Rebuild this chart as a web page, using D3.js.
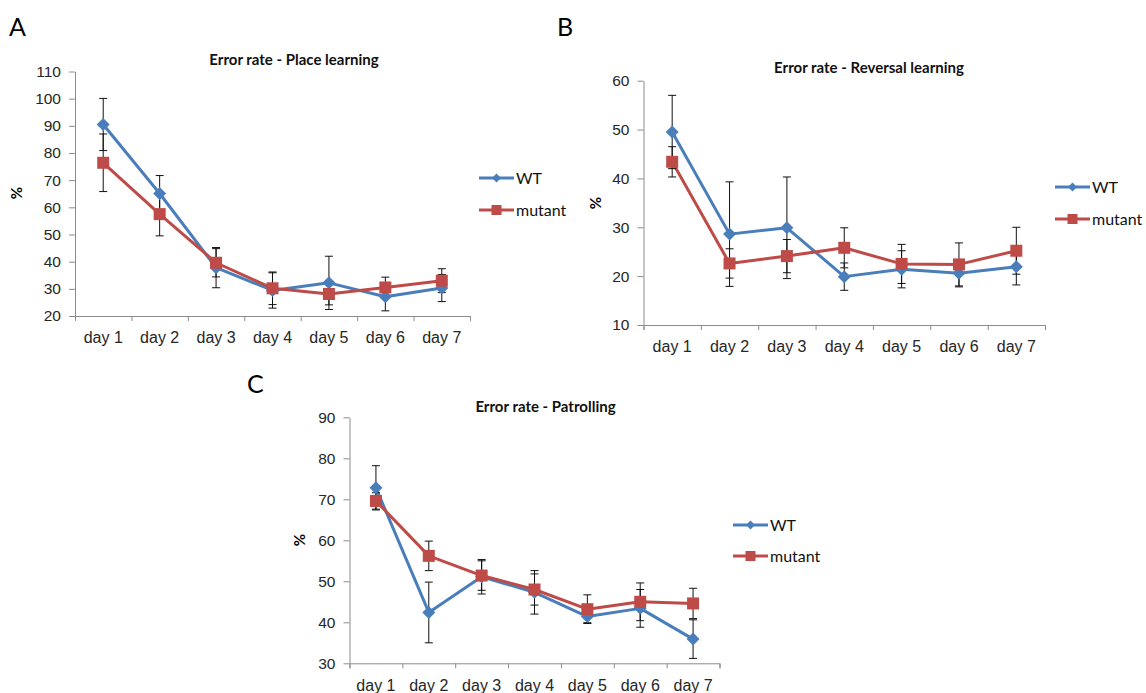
<!DOCTYPE html>
<html>
<head>
<meta charset="utf-8">
<script src="https://cdn.jsdelivr.net/npm/d3@7"></script>
<style>
  body { margin: 0; background: #fff; }
  svg { display: block; font-family: Lato, "Open Sans", sans-serif; }
</style>
</head>
<body>
<svg id="chart" width="1146" height="693"></svg>
<script>
const days = ["day 1", "day 2", "day 3", "day 4", "day 5", "day 6", "day 7"];
const seriesNames = ["WT", "mutant"];

// A - place learning
const placeWT = [90.5, 65.1, 37.8, 29.4, 32.2, 27.1, 30.3];
const placeWTErr = [9.6, 6.6, 7.4, 6.5, 9.8, 5.2, 5.0];
const placeMut = [76.4, 57.5, 39.6, 30.2, 28.1, 30.5, 33.0];
const placeMutErr = [10.6, 8.0, 5.2, 6.0, 4.0, 3.8, 4.4];
const placeTicks = [20, 30, 40, 50, 60, 70, 80, 90, 100, 110];

// B - reversal learning
const revWT = [49.5, 28.6, 29.9, 19.9, 21.4, 20.6, 21.9];
const revWTErr = [7.5, 10.7, 10.4, 2.8, 3.8, 2.8, 3.7];
const revMut = [43.4, 22.6, 24.1, 25.8, 22.5, 22.4, 25.2];
const revMutErr = [3.1, 3.0, 3.4, 4.1, 4.0, 4.4, 4.8];
const revTicks = [10, 20, 30, 40, 50, 60];

// C - patrolling
const patWT = [72.8, 42.4, 51.1, 47.3, 41.4, 43.4, 35.9];
const patWTErr = [5.4, 7.4, 4.2, 5.3, 1.5, 4.6, 4.7];
const patMut = [69.6, 56.2, 51.4, 48.0, 43.2, 45.0, 44.6];
const patMutErr = [2.0, 3.6, 3.6, 3.8, 3.5, 4.6, 3.7];
const patTicks = [30, 40, 50, 60, 70, 80, 90];

const blue = "#4a7ebb", red = "#be4b48", axisGrey = "#8c8c8c";

const svg = d3.select("#chart");

function drawPanel(p) {
    const g = svg.append("g");

    let x = d3.scaleBand()
        .domain(days)
        .range([p.left, p.right]);

    let xb = d3.scaleLinear()
        .domain([0, days.length])
        .range([p.left, p.right]);

    let y = d3.scaleLinear()
        .domain([p.ticks[0], p.ticks[p.ticks.length - 1]])
        .range([p.bottom, p.top]);

    // y axis
    const yAxis = g.append("g")
        .attr("transform", `translate(${p.left},0)`)
        .call(d3.axisLeft(y).tickValues(p.ticks).tickSize(6).tickPadding(8).tickSizeOuter(0));
    yAxis.select(".domain").attr("stroke", axisGrey);
    yAxis.selectAll(".tick line").attr("stroke", axisGrey);
    yAxis.selectAll("text").attr("font-size", 15.5).attr("fill", "#262626");

    // x axis: boundary ticks + labels
    const xTicks = g.append("g")
        .attr("transform", `translate(0,${p.bottom})`)
        .call(d3.axisBottom(xb).tickValues(d3.range(days.length + 1)).tickSize(5).tickFormat(""));
    xTicks.select(".domain").attr("stroke", axisGrey);
    xTicks.selectAll(".tick line").attr("stroke", axisGrey);

    const xLabels = g.append("g")
        .attr("transform", `translate(0,${p.bottom})`)
        .call(d3.axisBottom(x).tickSize(0).tickPadding(16));
    xLabels.select(".domain").remove();
    xLabels.selectAll("text").attr("font-size", 16).attr("fill", "#262626");

    // title
    g.append("text")
        .attr("x", p.titleX).attr("y", p.titleY)
        .attr("text-anchor", "middle")
        .attr("font-size", 15).attr("font-weight", "bold")
        .attr("fill", "#111")
        .text(p.title);

    // y label
    g.append("text")
        .attr("transform", `translate(${p.pctX},${p.pctY}) rotate(-90)`)
        .attr("text-anchor", "middle")
        .attr("font-size", 15).attr("font-weight", "bold")
        .text("%");

    // panel letter
    g.append("text")
        .attr("x", p.letterX).attr("y", p.letterY)
        .attr("font-size", 25)
        .text(p.letter);

    const series = [
        {name: "WT", vals: p.wt, err: p.wtErr, color: blue},
        {name: "mutant", vals: p.mut, err: p.mutErr, color: red}
    ];
    const cx = d => x(d) + x.bandwidth() / 2;

    const line = d3.line()
        .x((d, i) => cx(days[i]))
        .y(d => y(d));

    // lines
    series.forEach(s => {
        g.append("path")
            .attr("d", line(s.vals))
            .attr("fill", "none")
            .attr("stroke", s.color)
            .attr("stroke-width", 3)
            .attr("stroke-linejoin", "round");
    });

    // error bars
    series.forEach(s => {
        const eb = g.append("g").attr("stroke", "#111").attr("stroke-width", 1);
        s.vals.forEach((v, i) => {
            const xx = cx(days[i]);
            const hi = y(v + s.err[i]), lo = y(v - s.err[i]);
            eb.append("line").attr("x1", xx).attr("x2", xx).attr("y1", hi).attr("y2", lo);
            eb.append("line").attr("x1", xx - 4).attr("x2", xx + 4).attr("y1", hi).attr("y2", hi);
            eb.append("line").attr("x1", xx - 4).attr("x2", xx + 4).attr("y1", lo).attr("y2", lo);
        });
    });

    // markers
    g.selectAll(".wt")
        .data(p.wt)
        .join("path")
        .attr("class", "wt")
        .attr("transform", (d, i) => `translate(${cx(days[i])},${y(d)})`)
        .attr("d", "M0,-6.5L6.5,0L0,6.5L-6.5,0Z")
        .attr("fill", blue);

    g.selectAll(".mut")
        .data(p.mut)
        .join("rect")
        .attr("class", "mut")
        .attr("x", (d, i) => cx(days[i]) - 6)
        .attr("y", d => y(d) - 6)
        .attr("width", 12).attr("height", 12)
        .attr("fill", red);

    // legend
    series.forEach((s, i) => {
        const ly = p.legY[i];
        const lg = g.append("g");
        lg.append("line")
            .attr("x1", p.legX).attr("x2", p.legX + 35)
            .attr("y1", ly).attr("y2", ly)
            .attr("stroke", s.color).attr("stroke-width", 3);
        const mx = p.legX + 17.5;
        if (s.name === "WT") {
            lg.append("path")
                .attr("transform", `translate(${mx},${ly})`)
                .attr("d", "M0,-4.5L4.5,0L0,4.5L-4.5,0Z")
                .attr("fill", s.color);
        } else {
            lg.append("rect")
                .attr("x", mx - 5).attr("y", ly - 5)
                .attr("width", 10).attr("height", 10)
                .attr("fill", s.color);
        }
        lg.append("text")
            .attr("x", p.legX + 37).attr("y", ly + 6)
            .attr("font-size", 16).attr("fill", "#111")
            .text(s.name);
    });
}

drawPanel({
    letter: "A", letterX: 9, letterY: 36,
    title: "Error rate - Place learning", titleX: 294, titleY: 65,
    left: 75, right: 470, top: 71.5, bottom: 316,
    ticks: placeTicks, pctX: 22, pctY: 193,
    wt: placeWT, wtErr: placeWTErr, mut: placeMut, mutErr: placeMutErr,
    legX: 479, legY: [178, 210]
});

drawPanel({
    letter: "B", letterX: 557, letterY: 36,
    title: "Error rate - Reversal learning", titleX: 869, titleY: 73,
    left: 643.5, right: 1045, top: 80.7, bottom: 325,
    ticks: revTicks, pctX: 601, pctY: 203,
    wt: revWT, wtErr: revWTErr, mut: revMut, mutErr: revMutErr,
    legX: 1055, legY: [187, 219]
});

drawPanel({
    letter: "C", letterX: 247, letterY: 393,
    title: "Error rate - Patrolling", titleX: 545.5, titleY: 412,
    left: 349.5, right: 719.5, top: 417.3, bottom: 663.3,
    ticks: patTicks, pctX: 305, pctY: 540,
    wt: patWT, wtErr: patWTErr, mut: patMut, mutErr: patMutErr,
    legX: 733, legY: [525, 556]
});
</script>
</body>
</html>
